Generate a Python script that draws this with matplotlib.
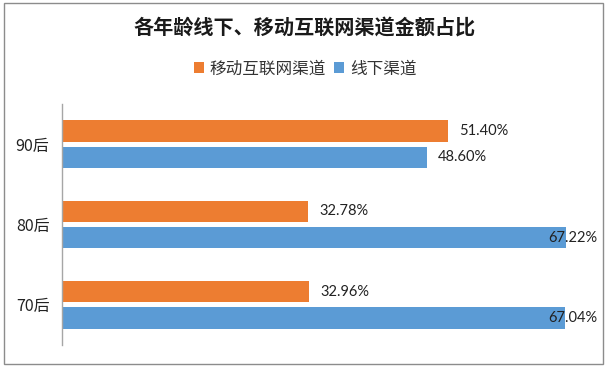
import matplotlib
matplotlib.use("Agg")
import matplotlib.pyplot as plt
from matplotlib.patches import Rectangle

plt.rcParams['font.family'] = ['Noto Sans CJK SC', 'DejaVu Sans']

categories = ['70后', '80后', '90后']
mobile = [32.96, 32.78, 51.40]
offline = [67.04, 67.22, 48.60]
series_names = ['移动互联网渠道', '线下渠道']
colors = ['#ED7D31', '#5B9BD5']

fig = plt.figure(figsize=(6.10, 3.69), dpi=100)
ax = fig.add_axes([62/610, 1-345/369, 540/610, (345-104)/369])

y = list(range(len(categories)))
off = 0.165
h = 0.267
xmax = 72
ax.barh([v + off for v in y], mobile, height=h, color=colors[0], label=series_names[0])
ax.barh([v - off for v in y], offline, height=h, color=colors[1], label=series_names[1])

ax.set_xlim(0, xmax)
ax.set_ylim(-0.5, 2.5)
ax.set_yticks(y)
ax.set_yticklabels(categories, fontsize=11.5, color='#222222')
ax.tick_params(axis='y', length=0, pad=9)
ax.set_xticks([])
for s in ['top', 'right', 'bottom']:
    ax.spines[s].set_visible(False)
ax.spines['left'].set_color('#A6A6A6')
ax.spines['left'].set_linewidth(1.0)

def label(vals, dy):
    for yi, v in zip(y, vals):
        txt = f'{v:.2f}%'
        if v + 1.5 + 7 > xmax:
            ax.text(xmax - 0.6, yi + dy, txt, ha='right', va='center',
                    fontsize=10.5, family=['Lato', 'DejaVu Sans'], color='#222222')
        else:
            ax.text(v + 1.5, yi + dy, txt, ha='left', va='center',
                    fontsize=10.5, family=['Lato', 'DejaVu Sans'], color='#222222')

label(mobile, off)
label(offline, -off)

fig.text(0.5, 1-28/369, '各年龄线下、移动互联网渠道金额占比', ha='center', va='center',
         fontsize=14.5, fontweight='bold', color='#1a1a1a')

handles, labels = ax.get_legend_handles_labels()
fig.legend(handles, labels, loc='center', bbox_to_anchor=(0.5, 1-69/369), ncol=2,
           frameon=False, fontsize=12, handlelength=0.6, handleheight=0.6,
           handletextpad=0.35, columnspacing=0.5, labelcolor='#333333')

fig.patches.append(Rectangle((4/610, 1-364/369), 599/610, 361/369, transform=fig.transFigure,
                             fill=False, edgecolor='#8C8C8C', linewidth=1.0))

fig.savefig('out.png', dpi=100)
